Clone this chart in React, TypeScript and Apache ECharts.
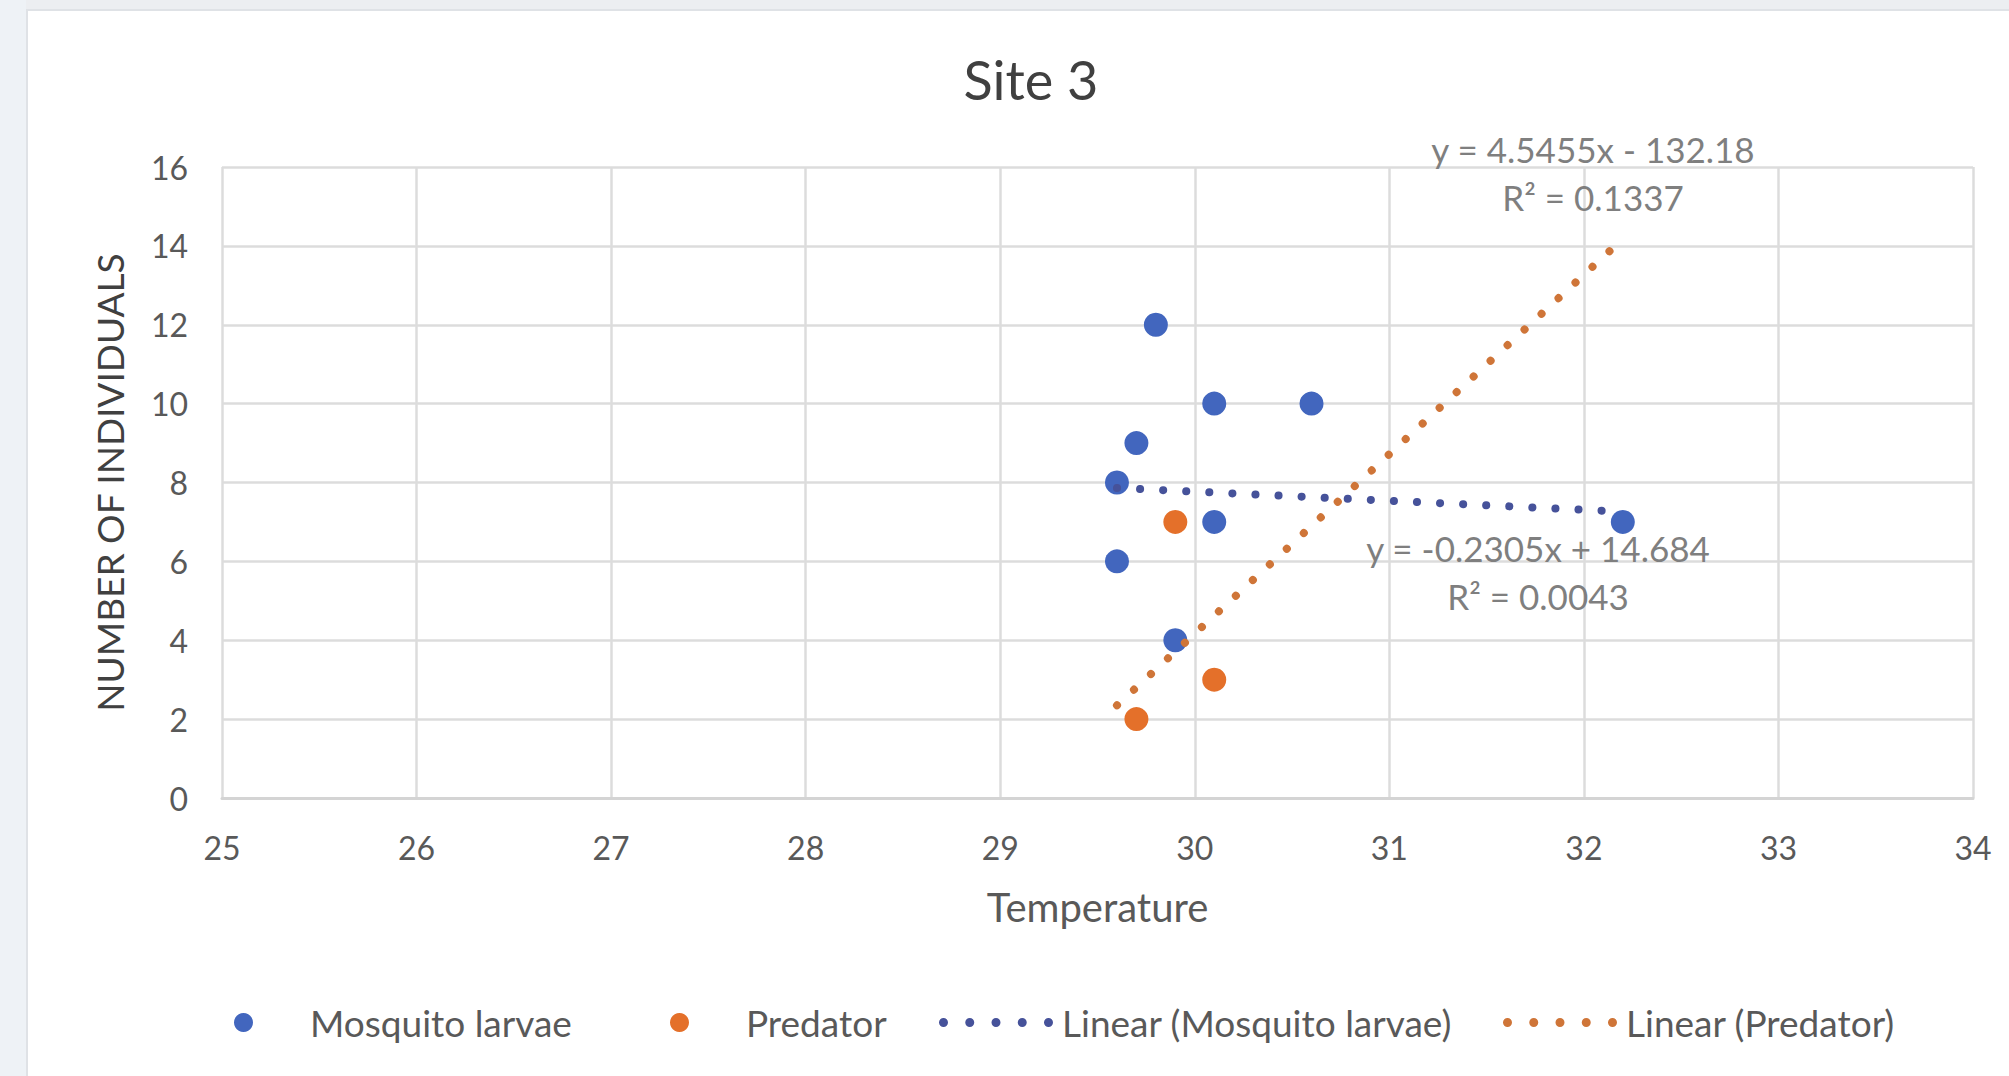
import React, { useEffect, useRef } from "react";
import * as echarts from "echarts";

// ---- data ----
const larvaeTemp = [29.8, 30.1, 30.6, 29.7, 29.6, 30.1, 32.2, 29.6, 29.9];
const larvaeCount = [12, 10, 10, 9, 8, 7, 7, 6, 4];
const predatorTemp = [29.9, 30.1, 29.7];
const predatorCount = [7, 3, 2];
// trendline endpoints (as drawn in the reference)
const larvaeTrendX = [29.6, 32.2];
const larvaeTrendY = [7.86, 7.26];
const predatorTrendX = [29.6, 32.15];
const predatorTrendY = [2.35, 13.95];
const larvaeEq = ["y = -0.2305x + 14.684", "R² = 0.0043"];
const predatorEq = ["y = 4.5455x - 132.18", "R² = 0.1337"];
const xTicks = { min: 25, max: 34, step: 1 };
const yTicks = { min: 0, max: 16, step: 2 };

const FONT = "Lato, 'Open Sans', sans-serif";
const BLUE = "#4266be";
const ORANGE = "#e4702a";
const BLUE_TREND = "#46529a";
const ORANGE_TREND = "#cf7538";
const TEXT = "#595959";

function dotsPath(width: number, n: number, r: number): string {
  const step = (width - 2 * r) / (n - 1);
  let d = "path://";
  for (let i = 0; i < n; i++) {
    const cx = r + i * step;
    d += `M${cx - r},${r}a${r},${r} 0 1,0 ${2 * r},0a${r},${r} 0 1,0 ${-2 * r},0Z`;
  }
  return d;
}

export default function App() {
  const ref = useRef<HTMLDivElement>(null);
  useEffect(() => {
    if (!ref.current) return;
    const chart = echarts.init(ref.current, undefined, { renderer: "svg" });
    const pair = (xs: number[], ys: number[]) => xs.map((x, i) => [x, ys[i]]);
    const legendText = (padLeft: number) => ({
      fontFamily: FONT,
      fontSize: 37,
      color: TEXT,
      padding: [0, 0, 0, padLeft],
    });
    const eqStyle = {
      fontFamily: FONT,
      fontSize: 35,
      fill: "#7f7f7f",
      textAlign: "center",
      textVerticalAlign: "middle",
    };
    chart.setOption({
      animation: false,
      backgroundColor: "#ffffff",
      title: {
        text: "Site 3",
        left: 1031,
        top: 52,
        padding: 0,
        textAlign: "center",
        textStyle: { fontFamily: FONT, fontSize: 54, fontWeight: "normal", color: "#404040" },
      },
      grid: { left: 222, top: 167, width: 1751, height: 631 },
      xAxis: {
        type: "value",
        min: xTicks.min,
        max: xTicks.max,
        interval: xTicks.step,
        name: "Temperature",
        nameLocation: "middle",
        nameGap: 89,
        nameTextStyle: { fontFamily: FONT, fontSize: 40, color: TEXT },
        axisLine: { show: true, lineStyle: { color: "#d4d4d4", width: 3 } },
        axisTick: { show: false },
        axisLabel: { fontFamily: FONT, fontSize: 32, color: TEXT, margin: 33 },
        splitLine: { show: true, lineStyle: { color: "#dcdcdc", width: 2.5 } },
      },
      yAxis: {
        type: "value",
        min: yTicks.min,
        max: yTicks.max,
        interval: yTicks.step,
        name: "NUMBER OF INDIVIDUALS",
        nameLocation: "middle",
        nameGap: 94,
        nameTextStyle: { fontFamily: FONT, fontSize: 37, color: "#404040" },
        axisLine: { show: false },
        axisTick: { show: false },
        axisLabel: { fontFamily: FONT, fontSize: 32, color: TEXT, margin: 34 },
        splitLine: { show: true, lineStyle: { color: "#dcdcdc", width: 2.5 } },
      },
      legend: [
        {
          data: [{ name: "Mosquito larvae", icon: "circle" }],
          left: 234, top: 1004, itemWidth: 19, itemHeight: 19, padding: 0,
          selectedMode: false, textStyle: legendText(52),
        },
        {
          data: [{ name: "Predator", icon: "circle" }],
          left: 670, top: 1004, itemWidth: 19, itemHeight: 19, padding: 0,
          selectedMode: false, textStyle: legendText(52),
        },
        {
          data: [{ name: "Linear (Mosquito larvae)", icon: dotsPath(114, 5, 4.5) }],
          left: 939, top: 1004, itemWidth: 114, itemHeight: 19, padding: 0,
          selectedMode: false, textStyle: legendText(4),
        },
        {
          data: [{ name: "Linear (Predator)", icon: dotsPath(114, 5, 4.5) }],
          left: 1503, top: 1004, itemWidth: 114, itemHeight: 19, padding: 0,
          selectedMode: false, textStyle: legendText(4),
        },
      ],
      graphic: [
        { type: "rect", shape: { x: 0, y: 0, width: 2009, height: 10 }, style: { fill: "#eceef1" }, silent: true },
        { type: "rect", shape: { x: 0, y: 0, width: 26, height: 1076 }, style: { fill: "#eef2f6" }, silent: true },
        { type: "rect", shape: { x: 26, y: 10, width: 2, height: 1066 }, style: { fill: "#dfe2e6" }, silent: true },
        { type: "rect", shape: { x: 26, y: 9, width: 1983, height: 2 }, style: { fill: "#dfe2e6" }, silent: true },
        { type: "text", x: 1593, y: 149, style: { ...eqStyle, text: predatorEq[0] }, z: 10 },
        { type: "text", x: 1593, y: 197, style: { ...eqStyle, text: predatorEq[1] }, z: 10 },
        { type: "text", x: 1538, y: 548, style: { ...eqStyle, text: larvaeEq[0] }, z: 10 },
        { type: "text", x: 1538, y: 596, style: { ...eqStyle, text: larvaeEq[1] }, z: 10 },
      ],
      series: [
        {
          name: "Mosquito larvae",
          type: "scatter",
          data: pair(larvaeTemp, larvaeCount),
          symbolSize: 24,
          itemStyle: { color: BLUE, opacity: 1 },
          z: 2,
        },
        {
          name: "Predator",
          type: "scatter",
          data: pair(predatorTemp, predatorCount),
          symbolSize: 24,
          itemStyle: { color: ORANGE, opacity: 1 },
          z: 2,
        },
        {
          name: "Linear (Mosquito larvae)",
          type: "line",
          data: pair(larvaeTrendX, larvaeTrendY),
          showSymbol: false,
          symbol: "none",
          itemStyle: { color: BLUE_TREND },
          lineStyle: { color: BLUE_TREND, width: 8, type: [0.1, 23], cap: "round" },
          z: 3,
        },
        {
          name: "Linear (Predator)",
          type: "line",
          data: pair(predatorTrendX, predatorTrendY),
          showSymbol: false,
          symbol: "none",
          itemStyle: { color: ORANGE_TREND },
          lineStyle: { color: ORANGE_TREND, width: 8, type: [0.1, 23], cap: "round" },
          z: 3,
        },
      ],
    });
    return () => chart.dispose();
  }, []);
  return (
    <div
      ref={ref}
      style={{ position: "fixed", left: 0, top: 0, width: 2009, height: 1076 }}
    />
  );
}
